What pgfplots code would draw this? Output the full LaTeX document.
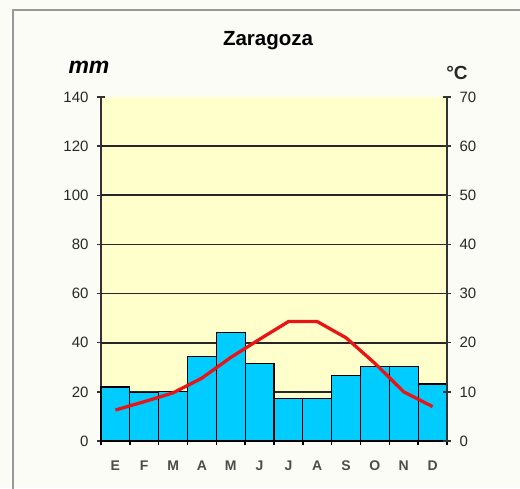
\documentclass[border=0pt]{standalone}
\usepackage{pgfplots}
\pgfplotsset{compat=1.18}
\usepackage{fontspec}
\setmainfont{Liberation Sans}
\definecolor{plotbg}{RGB}{255,255,204}
\definecolor{barcyan}{RGB}{0,204,255}
\definecolor{pagebg}{RGB}{252,252,247}
\definecolor{ticktxt}{RGB}{40,40,40}
\definecolor{lred}{RGB}{235,20,20}
\begin{document}
\begin{tikzpicture}[x=1pt,y=1pt]
\fill[pagebg] (0,0) rectangle (520,488);
\path[use as bounding box] (0,0) rectangle (520,488);
\draw[gray!80, line width=2pt] (13,-5) -- (13,478) -- (530,478);
\node[font=\bfseries\fontsize{20.5}{20}\selectfont] at (268,447) {Zaragoza};
\node[font=\bfseries\itshape\fontsize{23}{23}\selectfont] at (89,421) {mm};
\node[font=\bfseries\fontsize{19}{19}\selectfont, text=ticktxt] at (457,415) {°C};
\begin{axis}[at={(101pt,47pt)}, anchor=south west, scale only axis,
  width=346pt, height=344pt,
  xmin=-0.5, xmax=11.5, ymin=0, ymax=140,
  axis x line*=bottom, axis y line*=left,
  axis line style={-, line width=1.6pt, draw=black!80},
  axis background/.style={fill=plotbg},
  /pgf/number format/assume math mode=true,
  ytick={0,20,...,140},
  xtick={0,...,11},
  xticklabels={E,F,M,A,M,J,J,A,S,O,N,D},
  major x tick style={draw=none},
  minor xtick={-0.5,0.5,...,11.5},
  minor x tick style={line width=1.4pt, draw=black},
  tick align=center,
  major tick length=8pt, minor tick length=8pt,
  ytick style={line width=1.4pt, draw=black!80},
  ticklabel style={font=\fontsize{15}{15}\selectfont, text=ticktxt},
  yticklabel style={xshift=-5pt},
  xticklabel style={font=\bfseries\fontsize{14}{14}\selectfont, text=black!70, yshift=-12pt},
  extra y ticks={20,40,...,120},
  extra y tick labels={},
  extra y tick style={grid=major, major tick length=0pt},
  grid style={line width=1.6pt, draw=black!85},
  clip=false,
]
\addplot[ybar, bar width=1, fill=barcyan, draw=black, line width=1.2pt]
  coordinates {(0,22) (1,19.7) (2,20) (3,34.5) (4,44.2) (5,31.5) (6,17.3) (7,17.3) (8,26.8) (9,30.2) (10,30.2) (11,23.2)};
\end{axis}
\begin{axis}[at={(101pt,47pt)}, anchor=south west, scale only axis,
  width=346pt, height=344pt,
  xmin=-0.5, xmax=11.5, ymin=0, ymax=70,
  axis x line=none, axis y line*=right,
  axis line style={-, line width=1.6pt, draw=black!80},
  /pgf/number format/assume math mode=true,
  ytick={0,10,...,70},
  tick align=center, major tick length=8pt,
  ytick style={line width=1.4pt, draw=black!80},
  ticklabel style={font=\fontsize{15}{15}\selectfont, text=ticktxt},
  yticklabel style={xshift=5pt},
  clip=false,
]
\addplot[lred, line width=3.3pt, no markers]
  coordinates {(0,6.3) (1,8.0) (2,9.8) (3,12.8) (4,17.0) (5,20.7) (6,24.3) (7,24.3) (8,21.0) (9,15.8) (10,10.0) (11,7.0)};
\end{axis}
\end{tikzpicture}
\end{document}
